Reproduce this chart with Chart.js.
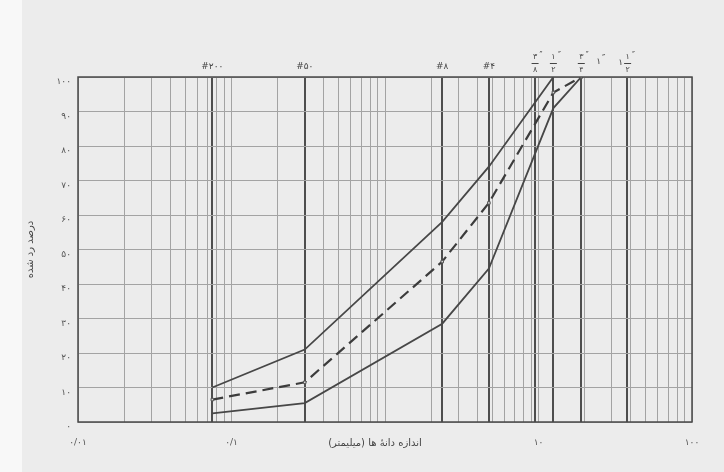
<!DOCTYPE html>
<html>
<head>
<meta charset="utf-8">
<script src="https://cdn.jsdelivr.net/npm/chart.js@4.4.0/dist/chart.umd.min.js"></script>
<style>
  html, body { margin: 0; padding: 0; }
  body {
    width: 724px;
    height: 472px;
    overflow: hidden;
    background: linear-gradient(to right, #f8f8f8 0, #f8f8f8 22px, #ececec 22px);
  }
  canvas { display: block; }
</style>
</head>
<body>
<canvas id="gradChart" width="724" height="472"></canvas>
<script>
"use strict";

// sieve openings (mm) where the band is defined
const sieveSizes = [0.075, 0.3, 2.36, 4.75, 12.5, 19];
const upperLimit = [10, 21, 58, 74, 100, null];
const middleCurve = [6.5, 11.5, 46.5, 63.5, 95.5, 100];
const lowerLimit = [2.5, 5.5, 28.5, 44.5, 91, 100];

// bold sieve lines and the labels on top
const sieveLines = [0.075, 0.3, 2.36, 4.75, 9.5, 12.5, 19, 37.5];
const topLabelValues = [0.075, 0.3, 2.36, 4.75, 9.5, 12.5, 19, 25, 37.5];
const topLabelText = ["#۲۰۰", "#۵۰", "#۸", "#۴", "۳/۸", "۱/۲", "۳/۴", "۱", "۱ ۱/۲"];

// labelled decades on the bottom axis
const xTickValues = [0.01, 0.1, 10, 100];
const xTickLabels = ["۰/۰۱", "۰/۱", "۱۰", "۱۰۰"];

const xTitle = "اندازه دانهٔ ها (میلیمتر)";
const yTitle = "درصد رد شده";

const fontName = "'DejaVu Sans'";
const inkColor = "#454545";

function toPersian(n) {
  return String(n).replace(/[0-9]/g, (d) => "۰۱۲۳۴۵۶۷۸۹"[d]);
}

function logTicks() {
  let ticks = [];
  for (let e = -2; e <= 1; e++) {
    for (let m = 1; m <= 9; m++) {
      ticks.push({ value: m * Math.pow(10, e) });
    }
  }
  ticks.push({ value: 100 });
  return ticks;
}

function toPoints(values) {
  return sieveSizes.map((s, i) => ({ x: s, y: values[i] }));
}

const paperPlugin = {
  id: "paper",
  afterDraw(chart) {
    const ctx = chart.ctx;
    const area = chart.chartArea;
    const top = chart.scales.top;
    ctx.save();

    // frame
    ctx.strokeStyle = "#4a4a4a";
    ctx.lineWidth = 1.5;
    ctx.strokeRect(area.left, area.top, area.right - area.left, area.bottom - area.top);

    // sieve labels above the frame
    ctx.fillStyle = inkColor;
    ctx.textAlign = "center";
    ctx.textBaseline = "middle";
    for (let i = 0; i < topLabelValues.length; i++) {
      const x = top.getPixelForValue(topLabelValues[i]);
      const text = topLabelText[i];
      ctx.font = "9px " + fontName;
      if (text.startsWith("#")) {
        ctx.fillText(text, x, 67);
        continue;
      }
      const parts = text.split(" ");
      let frac = parts[parts.length - 1];
      let fx = x;
      if (parts.length > 1) {
        ctx.fillText(parts[0], x - 6, 63);
        fx = x + 1;
      }
      if (frac.indexOf("/") < 0) {
        ctx.fillText(frac, x - 1, 62);
        ctx.fillText("″", x + 4, 59);
        continue;
      }
      const nd = frac.split("/");
      ctx.font = "8px " + fontName;
      ctx.fillText(nd[0], fx, 57);
      ctx.fillText(nd[1], fx, 70);
      ctx.fillText("″", fx + 6, 56);
      ctx.strokeStyle = inkColor;
      ctx.lineWidth = 1;
      ctx.beginPath();
      ctx.moveTo(fx - 3.5, 63.5);
      ctx.lineTo(fx + 3.5, 63.5);
      ctx.stroke();
    }

    // bottom axis title sits on the tick label row
    ctx.font = "10px " + fontName;
    ctx.direction = "rtl";
    ctx.fillText(xTitle, 375, 443);
    ctx.restore();
  },
};

const config = {
  type: "line",
  data: {
    datasets: [
      {
        label: "upper",
        data: toPoints(upperLimit),
        borderColor: "#474747",
        borderWidth: 1.8,
        pointRadius: 0,
        fill: false,
      },
      {
        label: "middle",
        data: toPoints(middleCurve),
        borderColor: "#3c3c3c",
        borderWidth: 2.2,
        borderDash: [11, 6],
        pointRadius: 1.8,
        pointStyle: "rect",
        pointBackgroundColor: "#d8d8d8",
        pointBorderColor: "#555",
        pointBorderWidth: 1,
        fill: false,
      },
      {
        label: "lower",
        data: toPoints(lowerLimit),
        borderColor: "#474747",
        borderWidth: 1.8,
        pointRadius: 0,
        fill: false,
      },
    ],
  },
  options: {
    responsive: false,
    animation: false,
    layout: { padding: { left: 0, right: 32, top: 0, bottom: 0 } },
    plugins: {
      legend: { display: false },
      tooltip: { enabled: false },
    },
    scales: {
      x: {
        type: "logarithmic",
        position: "bottom",
        min: 0.01,
        max: 100,
        afterBuildTicks: (scale) => {
          scale.ticks = logTicks();
        },
        afterFit: (scale) => {
          scale.height = 50;
        },
        grid: { color: "#a3a3a3", lineWidth: 1, drawTicks: false },
        border: { display: false },
        ticks: {
          autoSkip: false,
          maxRotation: 0,
          padding: 15,
          color: "#555",
          font: { family: fontName, size: 9 },
          callback: (value) => {
            for (let i = 0; i < xTickValues.length; i++) {
              if (Math.abs(Math.log10(value) - Math.log10(xTickValues[i])) < 1e-6) {
                return xTickLabels[i];
              }
            }
            return "";
          },
        },
      },
      top: {
        type: "logarithmic",
        position: "top",
        min: 0.01,
        max: 100,
        afterBuildTicks: (scale) => {
          scale.ticks = sieveLines.map((v) => ({ value: v }));
        },
        afterFit: (scale) => {
          scale.height = 77;
        },
        grid: { color: "#4e4e4e", lineWidth: 2, drawTicks: false },
        border: { display: false },
        ticks: { display: false, autoSkip: false },
      },
      y: {
        min: 0,
        max: 100,
        afterFit: (scale) => {
          scale.width = 78;
        },
        grid: { color: "#a3a3a3", lineWidth: 1, drawTicks: false },
        border: { display: false },
        title: {
          display: true,
          text: yTitle,
          color: inkColor,
          font: { family: fontName, size: 10 },
          padding: { top: 24, bottom: 0 },
        },
        ticks: {
          stepSize: 10,
          padding: 7,
          labelOffset: 5,
          color: "#555",
          font: { family: fontName, size: 9 },
          callback: (value) => toPersian(value),
        },
      },
    },
  },
  plugins: [paperPlugin],
};

const canvasChart = document.getElementById("gradChart");
new Chart(canvasChart, config);
</script>
</body>
</html>
